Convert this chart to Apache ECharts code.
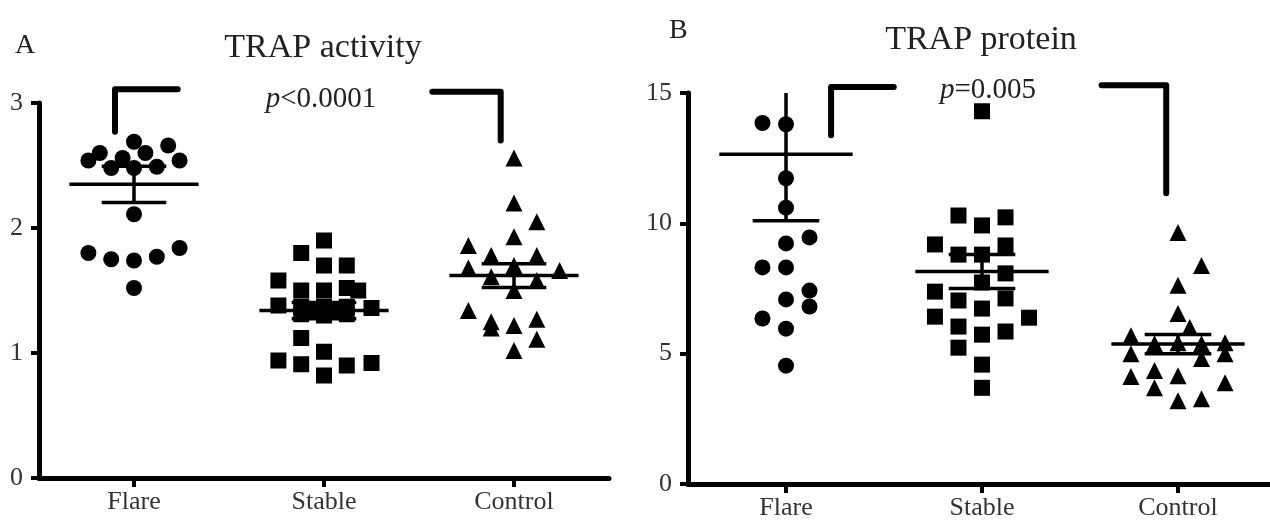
<!DOCTYPE html>
<html>
<head>
<meta charset="utf-8">
<title>TRAP activity / TRAP protein</title>
<script src="https://cdn.jsdelivr.net/npm/echarts@6/dist/echarts.min.js"></script>
<style>
    html, body { margin: 0; padding: 0; background: #fff; }
    #chart { width: 1270px; height: 523px; }
</style>
</head>
<body>
<div id="chart"></div>
<script>
    // groups on the x axis (1, 2, 3)
    var categories = ['Flare', 'Stable', 'Control'];

    // panel A - TRAP activity
    var flareA = [2.69, 2.66, 2.60, 2.60, 2.54, 2.56, 2.54, 2.48, 2.48, 2.49, 2.11, 1.80, 1.75, 1.74, 1.77, 1.84, 1.52];
    var flareAJitter = [0, 0.18, -0.18, 0.06, -0.24, -0.06, 0.24, -0.12, 0, 0.12, 0, -0.24, -0.12, 0, 0.12, 0.24, 0];
    var stableA = [1.90, 1.80, 1.70, 1.70, 1.58, 1.50, 1.50, 1.52, 1.50, 1.38, 1.37, 1.35, 1.37, 1.35, 1.37, 1.36, 1.31, 1.30, 1.31, 1.12, 0.94, 0.91, 1.01, 0.90, 0.92, 0.82];
    var stableAJitter = [0, -0.12, 0, 0.12, -0.24, -0.12, 0, 0.12, 0.18, -0.24, -0.12, -0.06, 0, 0.06, 0.12, 0.25, -0.12, 0, 0.12, -0.12, -0.24, -0.12, 0, 0.12, 0.25, 0];
    var controlA = [2.56, 2.20, 2.05, 1.93, 1.86, 1.78, 1.78, 1.70, 1.68, 1.66, 1.61, 1.58, 1.50, 1.34, 1.25, 1.20, 1.22, 1.27, 1.11, 1.02];
    var controlAJitter = [0, 0, 0.12, 0, -0.24, -0.12, 0.12, 0, -0.24, 0.24, -0.12, 0.12, 0, -0.24, -0.12, -0.12, 0, 0.12, 0.12, 0];
    var meanA = [2.35, 1.34, 1.62];
    var semA = [0.145, 0.065, 0.095];
    var yTicksA = [0, 1, 2, 3];

    // panel B - TRAP protein
    var flareB = [13.85, 13.8, 11.73, 10.6, 9.23, 9.46, 8.31, 8.31, 7.42, 7.08, 6.81, 6.35, 5.96, 4.54];
    var flareBJitter = [-0.12, 0, 0, 0, 0, 0.12, -0.12, 0, 0.12, 0, 0.12, -0.12, 0, 0];
    var stableB = [14.3, 10.3, 9.92, 10.23, 9.19, 8.8, 8.8, 9.15, 8.08, 7.73, 7.38, 7.04, 7.12, 6.73, 6.42, 6.38, 6.04, 5.73, 5.85, 5.23, 4.58, 3.69];
    var stableBJitter = [0, -0.12, 0, 0.12, -0.24, -0.12, 0, 0.12, 0.12, 0, -0.24, -0.12, 0.12, 0, -0.24, 0.24, -0.12, 0, 0.12, -0.12, 0, 0];
    var controlB = [9.65, 8.38, 7.62, 6.54, 6.0, 5.69, 5.42, 5.38, 5.42, 5.38, 5.0, 5.0, 4.81, 4.12, 4.35, 3.69, 4.15, 3.88, 3.19, 3.27];
    var controlBJitter = [0, 0.12, 0, 0, 0.06, -0.24, 0.24, -0.12, 0, 0.12, -0.24, 0.24, 0.12, -0.24, -0.12, -0.12, 0, 0.24, 0, 0.12];
    var meanB = [12.65, 8.15, 5.37];
    var semB = [2.55, 0.65, 0.37];
    var yTicksB = [0, 5, 10, 15];

    // significance brackets, in data units
    var bracketA1 = [[0.9, 2.77], [0.9, 3.11], [1.23, 3.11]];
    var bracketA2 = [[2.57, 3.09], [2.93, 3.09], [2.93, 2.70]];
    var bracketB1 = [[1.23, 13.38], [1.23, 15.23], [1.55, 15.23]];
    var bracketB2 = [[2.61, 15.3], [2.94, 15.3], [2.94, 11.15]];

    var FONT = '"Liberation Serif", "DejaVu Serif", serif';

    function points(group, values, jitter) {
        var out = [];
        for (var i = 0; i < values.length; i++) {
            out.push([group + jitter[i], values[i]]);
        }
        return out;
    }

    function meanRows(means, sems) {
        var out = [];
        for (var i = 0; i < means.length; i++) {
            out.push([i + 1, means[i], sems[i]]);
        }
        return out;
    }

    // mean line + SEM bar
    function renderMean(params, api) {
        var x = api.value(0), m = api.value(1), s = api.value(2);
        function seg(a, b) {
            return {
                type: 'line',
                shape: {x1: a[0], y1: a[1], x2: b[0], y2: b[1]},
                style: {stroke: '#000', lineWidth: 3.5}
            };
        }
        return {
            type: 'group',
            children: [
                seg(api.coord([x - 0.34, m]), api.coord([x + 0.34, m])),
                seg(api.coord([x - 0.17, m + s]), api.coord([x + 0.17, m + s])),
                seg(api.coord([x - 0.17, m - s]), api.coord([x + 0.17, m - s])),
                seg(api.coord([x, m - s]), api.coord([x, m + s]))
            ]
        };
    }

    function xAxisFor(idx) {
        return {
            gridIndex: idx,
            type: 'value',
            min: 0.5,
            max: 3.5,
            splitLine: {show: false},
            axisLine: {show: true, lineStyle: {color: '#000', width: 5}},
            axisTick: {show: true, customValues: [1, 2, 3], length: 9, lineStyle: {color: '#000', width: 4}},
            axisLabel: {
                customValues: [1, 2, 3],
                margin: 11,
                color: '#333',
                fontFamily: FONT,
                fontSize: 26,
                formatter: function (v) { return categories[Math.round(v) - 1]; }
            }
        };
    }

    function yAxisFor(idx, ticks) {
        return {
            gridIndex: idx,
            type: 'value',
            min: ticks[0],
            max: ticks[ticks.length - 1],
            interval: ticks[1] - ticks[0],
            splitLine: {show: false},
            axisLine: {show: true, lineStyle: {color: '#000', width: 5}},
            axisTick: {show: true, length: 8, lineStyle: {color: '#000', width: 4}},
            axisLabel: {margin: 16, color: '#333', fontFamily: FONT, fontSize: 26}
        };
    }

    function scatter(idx, data, symbol, size) {
        return {
            type: 'scatter',
            xAxisIndex: idx,
            yAxisIndex: idx,
            symbol: symbol,
            symbolSize: size,
            itemStyle: {color: '#000', opacity: 1},
            data: data
        };
    }

    function bracket(idx, data) {
        return {
            type: 'line',
            xAxisIndex: idx,
            yAxisIndex: idx,
            clip: false,
            symbol: 'none',
            lineStyle: {color: '#000', width: 6, cap: 'round', join: 'round'},
            data: data
        };
    }

    function label(x, y, text, size, align) {
        return {
            type: 'text',
            x: x,
            y: y,
            style: {
                text: text,
                fill: '#222',
                font: size + 'px ' + FONT,
                align: align,
                textAlign: align,
                verticalAlign: 'middle',
                textVerticalAlign: 'middle',
                rich: {
                    i: {fontStyle: 'italic', fontSize: size, fontFamily: FONT, fill: '#222', color: '#222'},
                    n: {fontSize: size, fontFamily: FONT, fill: '#222', color: '#222'}
                }
            }
        };
    }

    var chart = echarts.init(document.getElementById('chart'), null, {renderer: 'canvas'});

    var option = {
        backgroundColor: '#fff',
        animation: false,
        grid: [
            {left: 39, top: 103, width: 570, height: 375, containLabel: false, outerBoundsMode: 'none'},
            {left: 688, top: 93, width: 588, height: 391, containLabel: false, outerBoundsMode: 'none'}
        ],
        xAxis: [xAxisFor(0), xAxisFor(1)],
        yAxis: [yAxisFor(0, yTicksA), yAxisFor(1, yTicksB)],
        graphic: [
            label(15, 46, 'A', 28, 'left'),
            label(323, 48, 'TRAP activity', 34, 'center'),
            label(321, 99, '{i|p}{n|<0.0001}', 29, 'center'),
            label(669, 31, 'B', 28, 'left'),
            label(981, 40, 'TRAP protein', 34, 'center'),
            label(988, 90, '{i|p}{n|=0.005}', 29, 'center')
        ],
        series: [
            scatter(0, points(1, flareA, flareAJitter), 'circle', 16),
            scatter(0, points(2, stableA, stableAJitter), 'rect', 16),
            scatter(0, points(3, controlA, controlAJitter), 'triangle', 17),
            {type: 'custom', xAxisIndex: 0, yAxisIndex: 0, clip: true, renderItem: renderMean, data: meanRows(meanA, semA)},
            bracket(0, bracketA1),
            bracket(0, bracketA2),

            scatter(1, points(1, flareB, flareBJitter), 'circle', 16),
            scatter(1, points(2, stableB, stableBJitter), 'rect', 16),
            scatter(1, points(3, controlB, controlBJitter), 'triangle', 17),
            {type: 'custom', xAxisIndex: 1, yAxisIndex: 1, clip: true, renderItem: renderMean, data: meanRows(meanB, semB)},
            bracket(1, bracketB1),
            bracket(1, bracketB2)
        ]
    };

    chart.setOption(option);
</script>
</body>
</html>
